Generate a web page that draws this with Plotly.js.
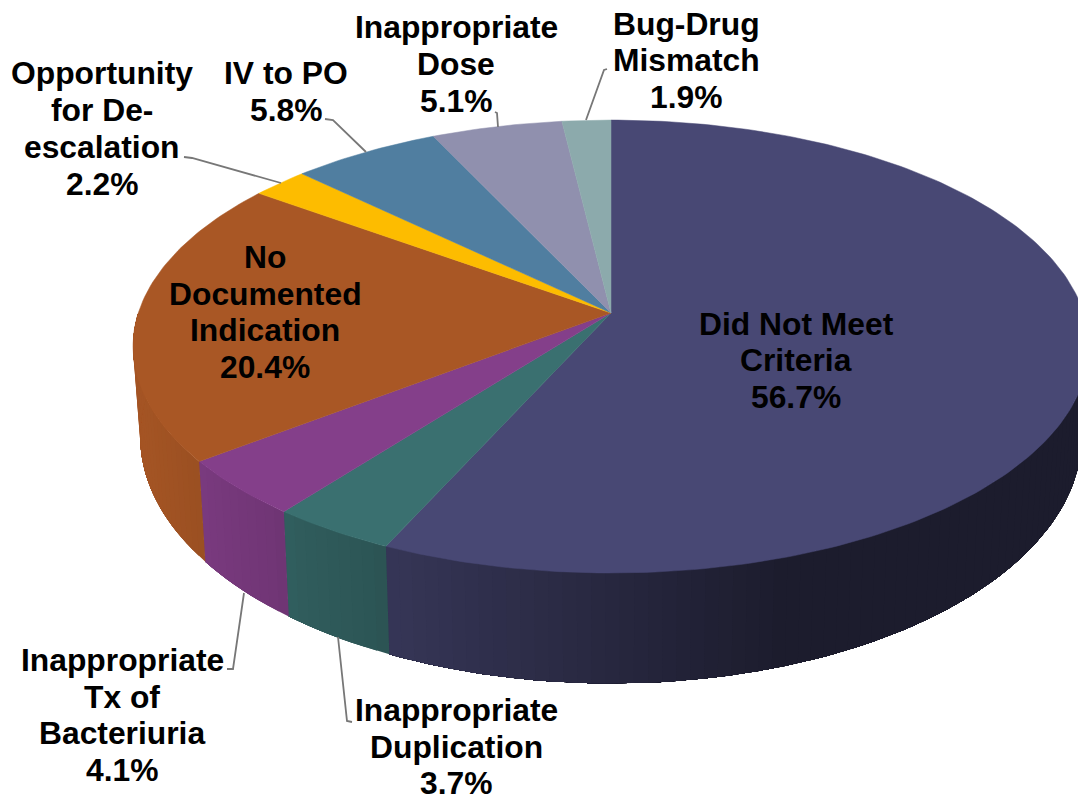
<!DOCTYPE html>
<html>
<head>
<meta charset="utf-8">
<script src="https://cdn.plot.ly/plotly-3.0.1.min.js"></script>
<style>html,body{margin:0;padding:0;background:#fff}#chart{width:1078px;height:795px}</style>
</head>
<body>
<div id="chart"></div>
<script>
// Share of each review outcome, clockwise from twelve o'clock.
const categories = ["Did Not Meet Criteria", "Inappropriate Duplication", "Inappropriate Tx of Bacteriuria",
  "No Documented Indication", "Opportunity for De-escalation", "IV to PO", "Inappropriate Dose", "Bug-Drug Mismatch"];
const shares = [56.7, 3.7, 4.1, 20.4, 2.2, 5.8, 5.1, 1.9];
const sliceColors = [[72,72,116], [58,112,112], [132,63,138], [169,87,37], [253,188,0], [80,126,160], [144,144,174], [140,170,172]];

// Wrapped label text for each slice, with the centre x and the y of every line.
const labelLines = [
  ["Did Not Meet", "Criteria"], ["Inappropriate", "Duplication"], ["Inappropriate", "Tx of", "Bacteriuria"],
  ["No", "Documented", "Indication"], ["Opportunity", "for De-", "escalation"], ["IV to PO"], ["Inappropriate", "Dose"], ["Bug-Drug", "Mismatch"]
];
const labelX = [796, 456, 122, 265, 102, 286, 456, 686];
const labelY = [
  [324, 360, 397], [710, 747, 783], [660, 697, 733, 770], [257, 294, 330, 367],
  [73, 110, 147, 184], [73, 110], [27, 64, 101], [24, 60, 97]
];

// Leader lines from outside labels to their slices.
const leaderX = [[352, 347, 338], [227, 233, 244], [184, 192, 281], [325, 333, 366], [495, 497, 498], [607, 604, 586]];
const leaderY = [[722, 721, 637], [669, 669, 593], [157, 158, 183], [119, 120, 152], [112, 113, 127], [69, 70, 120]];

// Perspective disc geometry.
const cx = 611, cy = 313, scaleX = 472.7, scaleY = 221.5, tilt = 0.148;
const wallScaleX = 0.985, wallScaleY = 1.09, wallCy = 400;
const toRad = Math.PI / 180;

function rim(deg) {
  const u = Math.sin(deg * toRad), v = Math.cos(deg * toRad), d = 1 + tilt * v;
  return [scaleX * u / d, scaleY * v / d];
}
function topPt(deg) { const p = rim(deg); return [cx + p[0], cy - p[1]]; }
function basePt(deg) { const p = rim(deg); return [cx + wallScaleX * p[0], wallCy - wallScaleY * p[1]]; }

// The side wall darkens steadily from left to right.
function shade(rgb, x) {
  const f = Math.max(0.39, Math.min(0.97, 0.97 - (x - 140) * 0.58 / 640));
  return "rgb(" + rgb.map(c => Math.round(c * f)).join(",") + ")";
}

const total = 360 / shares.reduce((a, b) => a + b, 0);
const wallTraces = [];
const topTraces = [];
let start = 0;
shares.forEach((share, i) => {
  const end = start + share * total;
  const rgb = sliceColors[i];

  // Front wall: each band runs to the slice's far end and the next band paints
  // over it, so no hairline gaps appear between shades. Going from the far side
  // of the angle range keeps the slice's own boundary crisp.
  const a0 = Math.max(start, 90), a1 = Math.min(end, 270);
  if (a1 > a0) {
    const n = Math.max(1, Math.ceil((a1 - a0) / 1.5));
    for (let k = 0; k < n; k++) {
      const s = a0 + (a1 - a0) * k / n, e = a0 + (a1 - a0) * (k + 1) / n;
      const pts = [];
      const arcSteps = Math.max(1, Math.ceil((a1 - s) / 1.5));
      for (let q = 0; q <= arcSteps; q++) pts.push(topPt(s + (a1 - s) * q / arcSteps));
      for (let q = arcSteps; q >= 0; q--) pts.push(basePt(s + (a1 - s) * q / arcSteps));
      pts.push(pts[0]);
      const col = shade(rgb, (topPt(s)[0] + topPt(e)[0]) / 2);
      wallTraces.push({
        x: pts.map(p => p[0]), y: pts.map(p => p[1]), mode: "lines", fill: "toself",
        fillcolor: col, line: {width: 0}, hoverinfo: "skip", showlegend: false
      });
    }
  }

  // Top face of the slice.
  const xs = [cx], ys = [cy];
  const steps = Math.max(4, Math.ceil((end - start) / 1));
  for (let k = 0; k <= steps; k++) {
    const p = topPt(start + (end - start) * k / steps);
    xs.push(p[0]); ys.push(p[1]);
  }
  xs.push(cx); ys.push(cy);
  const col = "rgb(" + rgb.join(",") + ")";
  topTraces.push({
    x: xs, y: ys, mode: "lines", fill: "toself", name: categories[i],
    fillcolor: col, line: {color: col, width: 0.5}, hoverinfo: "skip", showlegend: false
  });
  start = end;
});

const leaderTraces = leaderX.map((xs, i) => ({
  x: xs, y: leaderY[i], mode: "lines", line: {color: "#777777", width: 1.8},
  hoverinfo: "skip", showlegend: false
}));

const traces = [...wallTraces, ...topTraces, ...leaderTraces];

// One annotation per text line keeps the tight line spacing of the labels.
const annotations = [];
labelLines.forEach((lines, i) => {
  const all = lines.concat([shares[i].toFixed(1) + "%"]);
  all.forEach((t, j) => annotations.push({
    x: labelX[i], y: labelY[i][j], text: "<b>" + t + "</b>", showarrow: false,
    xanchor: "center", yanchor: "middle", borderpad: 0, xref: "x", yref: "y",
    font: {family: "Liberation Sans, Arial, sans-serif", size: 31.8, color: "#000"}
  }));
});

const layout = {
  width: 1078, height: 795,
  margin: {l: 0, r: 0, t: 0, b: 0},
  paper_bgcolor: "#fff", plot_bgcolor: "#fff",
  xaxis: {range: [0, 1078], visible: false, fixedrange: true},
  yaxis: {range: [795, 0], visible: false, fixedrange: true},
  annotations: annotations
};
Plotly.newPlot("chart", traces, layout, {displayModeBar: false, staticPlot: true});
</script>
</body>
</html>
